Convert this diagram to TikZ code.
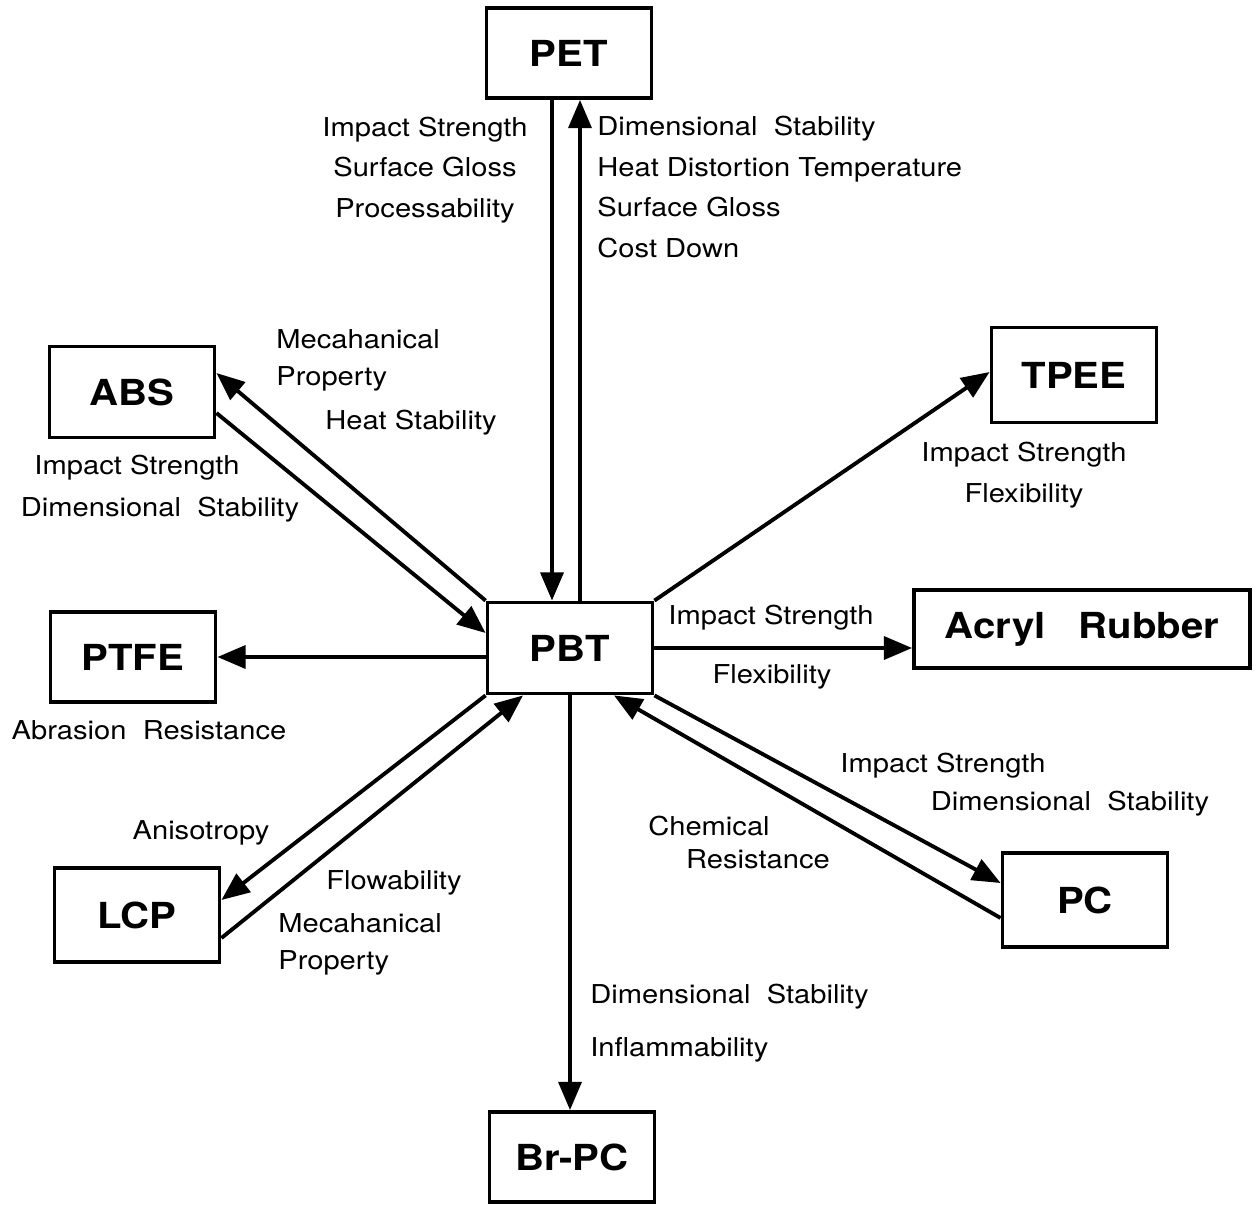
\documentclass[tikz,border=0pt]{standalone}
\usepackage{fontspec}
\setmainfont[FakeStretch=1.12]{TeX Gyre Heros}
\usetikzlibrary{arrows.meta,positioning,calc}
\tikzset{>={Triangle[length=16pt,width=13pt]}}
\tikzset{
  matbox/.style={draw,line width=2.2pt,minimum width=3.3cm,minimum height=1.82cm,
    inner sep=0pt,font=\bfseries\fontsize{20.4}{23}\selectfont},
  prop/.style={inner sep=0pt,font=\fontsize{14.8}{23}\selectfont},
  link/.style={->,line width=2.2pt},
}
\begin{document}
\begin{tikzpicture}[x=0.02cm,y=-0.02cm]
    \useasboundingbox (0,0) rectangle (1258,1204);
    \node [matbox] (PBT) at (570,648) {PBT};
    \node [matbox,minimum height=1.8cm] (PET) at (569,53) {PET};
    \node [matbox] (ABS) at (132,392) {ABS};
    \node [matbox,minimum height=1.8cm] (PTFE) at (133,657) {PTFE};
    \node [matbox,minimum height=1.9cm] (TPEE) at (1074,375) {TPEE};
    \node [matbox,minimum width=6.72cm,minimum height=1.56cm] (Acryl) at (1082,629) {Acryl\ \ \ Rubber};
    \node [matbox,minimum height=1.88cm] (LCP) at (137,915) {LCP};
    \node [matbox,minimum height=1.88cm] (PC) at (1085,900) {PC};
    \node [matbox,minimum height=1.8cm] (BrPC) at (572,1157) {Br-PC};
    \draw [link] ($(PET.south)+(-17,0)$) -- ($(PBT.north)+(-18,0)$);
    \draw [link] ($(PBT.north)+(10,0)$) -- ($(PET.south)+(11,0)$);
    \draw [link] (PBT.north west) -- ($(ABS.east)+(0,-19)$);
    \draw [link] ($(ABS.east)+(0,21)$) -- ($(PBT.west)+(0,-15)$);
    \draw [link] (PBT.west |- PTFE.east) -- (PTFE.east);
    \draw [link] (PBT.south west) -- ($(LCP.east)+(0,-15)$);
    \draw [link] ($(LCP.east)+(0,23)$) -- ($(PBT.south)+(-47,0)$);
    \draw [link] (PBT.north east) -- ($(TPEE.west)+(0,-3)$);
    \draw [link] (PBT.east) -- (PBT.east -| Acryl.west);
    \draw [link] (PBT.south east) -- ($(PC.west)+(0,-17)$);
    \draw [link] ($(PC.west)+(0,18)$) -- ($(PBT.south)+(44,0)$);
    \draw [link] (PBT.south) -- (PBT.south |- BrPC.north);
    \node [prop,align=center] (petdown) at (425,170) {Impact Strength\\Surface Gloss\\Processability};
    \node [prop,align=left,anchor=west] (petup) at (597,187) {Dimensional\ \ Stability\\Heat Distortion Temperature\\Surface Gloss\\Cost Down};
    \node [prop,align=left,anchor=west] (absup) at (276,360) {Mecahanical\\[-2pt]Property};
    \node [prop] (absheat) at (411,423) {Heat Stability};
    \node [prop] (absdown) at (137,468) {Impact Strength};
    \node [prop] (absdim) at (160,510) {Dimensional\ \ Stability};
    \node [prop] (ptfelbl) at (149,730) {Abrasion\ \ Resistance};
    \node [prop,align=center] (tpeelbl) at (1024,475) {Impact Strength\\Flexibility};
    \node [prop] (acrylup) at (771,618) {Impact Strength};
    \node [prop] (acryldown) at (772,677) {Flexibility};
    \node [prop] (pcup) at (943,766) {Impact Strength};
    \node [prop] (pcdim) at (1070,804) {Dimensional\ \ Stability};
    \node [prop] (pcdown) at (709,826) {Chemical};
    \node [prop] (pcres) at (758,859) {Resistance};
    \node [prop] (lcpup) at (201,833) {Anisotropy};
    \node [prop] (lcpdown) at (394,883) {Flowability};
    \node [prop,align=left,anchor=west] (lcpmech) at (278,944) {Mecahanical\\[-2pt]Property};
    \node [prop,align=left,anchor=west] (brpclbl) at (590,1023) {Dimensional\ \ Stability\\[7pt]Inflammability};
  \end{tikzpicture}
\end{document}
